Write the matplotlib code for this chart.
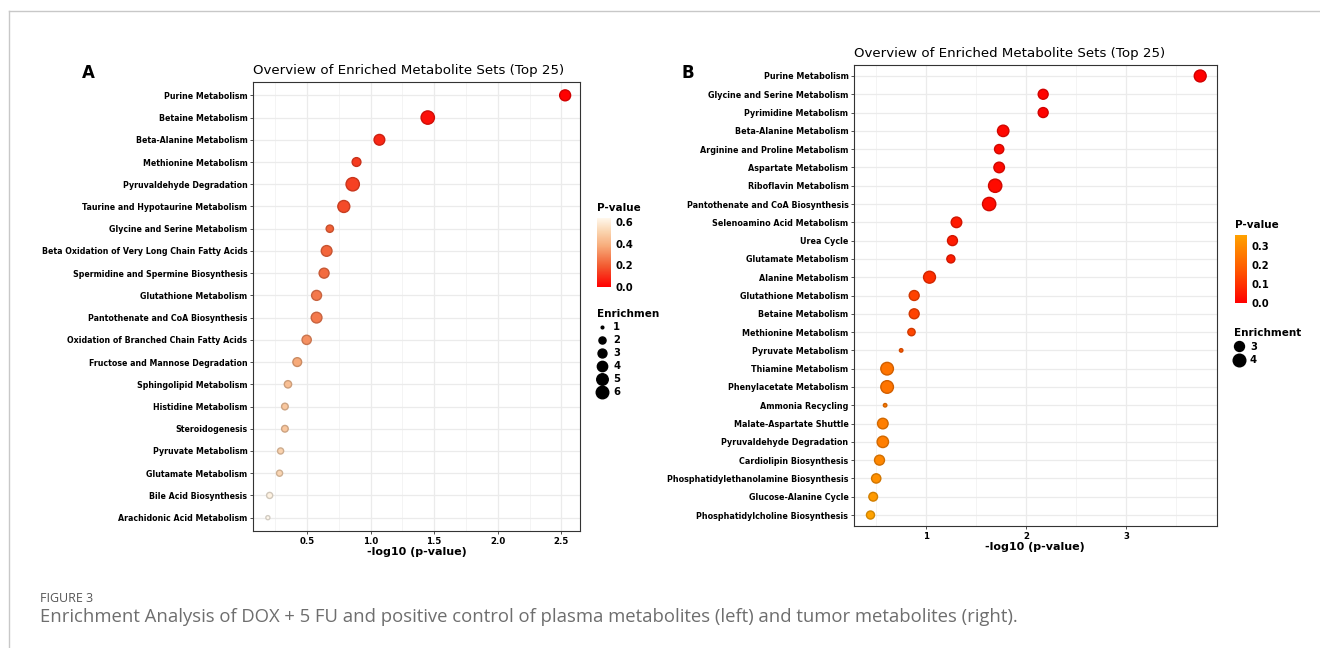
import matplotlib.pyplot as plt
import numpy as np
from matplotlib.cm import ScalarMappable
from matplotlib.colors import LinearSegmentedColormap, Normalize
from matplotlib.lines import Line2D
from matplotlib.ticker import FormatStrFormatter, MultipleLocator

# panel A: plasma metabolites
plasma_sets = [
    "Purine Metabolism", "Betaine Metabolism", "Beta-Alanine Metabolism",
    "Methionine Metabolism", "Pyruvaldehyde Degradation",
    "Taurine and Hypotaurine Metabolism", "Glycine and Serine Metabolism",
    "Beta Oxidation of Very Long Chain Fatty Acids",
    "Spermidine and Spermine Biosynthesis", "Glutathione Metabolism",
    "Pantothenate and CoA Biosynthesis",
    "Oxidation of Branched Chain Fatty Acids",
    "Fructose and Mannose Degradation", "Sphingolipid Metabolism",
    "Histidine Metabolism", "Steroidogenesis", "Pyruvate Metabolism",
    "Glutamate Metabolism", "Bile Acid Biosynthesis",
    "Arachidonic Acid Metabolism",
]
plasma_log_p = [2.53, 1.45, 1.07, 0.89, 0.86, 0.79, 0.68, 0.655, 0.635, 0.576,
                0.576, 0.498, 0.424, 0.351, 0.327, 0.327, 0.293, 0.285, 0.207, 0.193]
plasma_enrichment = [4.5, 6.8, 4.3, 2.9, 6.8, 5.4, 2.1, 4.3, 3.7, 3.7,
                     4.3, 3.2, 2.9, 2.1, 1.8, 1.8, 1.6, 1.6, 1.6, 1.1]
plasma_size_breaks = [1, 2, 3, 4, 5, 6]

# panel B: tumor metabolites
tumor_sets = [
    "Purine Metabolism", "Glycine and Serine Metabolism",
    "Pyrimidine Metabolism", "Beta-Alanine Metabolism",
    "Arginine and Proline Metabolism", "Aspartate Metabolism",
    "Riboflavin Metabolism", "Pantothenate and CoA Biosynthesis",
    "Selenoamino Acid Metabolism", "Urea Cycle", "Glutamate Metabolism",
    "Alanine Metabolism", "Glutathione Metabolism", "Betaine Metabolism",
    "Methionine Metabolism", "Pyruvate Metabolism", "Thiamine Metabolism",
    "Phenylacetate Metabolism", "Ammonia Recycling",
    "Malate-Aspartate Shuttle", "Pyruvaldehyde Degradation",
    "Cardiolipin Biosynthesis", "Phosphatidylethanolamine Biosynthesis",
    "Glucose-Alanine Cycle", "Phosphatidylcholine Biosynthesis",
]
tumor_log_p = [3.737, 2.17, 2.17, 1.771, 1.731, 1.731, 1.691, 1.631, 1.305,
               1.265, 1.249, 1.036, 0.883, 0.883, 0.856, 0.753, 0.613, 0.613,
               0.593, 0.570, 0.570, 0.537, 0.504, 0.474, 0.447]
tumor_enrichment = [3.7, 3.0, 3.0, 3.5, 2.8, 3.2, 4.3, 4.3, 3.2, 3.0, 2.5,
                    3.7, 3.0, 3.0, 2.35, 2.0, 4.0, 4.0, 2.0, 3.2, 3.5, 3.0,
                    2.8, 2.65, 2.5]
tumor_size_breaks = [3, 4]

W, H = 1320, 648
fig = plt.figure(figsize=(W / 100, H / 100), dpi=100)


def px_box(x0, y0, x1, y1):
    return [x0 / W, 1 - y1 / H, (x1 - x0) / W, (y1 - y0) / H]


def marker_diam(enrichment, lim, diam):
    e = np.clip((np.asarray(enrichment, float) - lim[0]) / (lim[1] - lim[0]), 0, 1)
    return diam[0] + np.sqrt(e) * (diam[1] - diam[0])  # pixels


def draw_panel(ax, cax, sets, log_p, enrichment, cmap, size_lim, size_px,
               breaks, major, minor, fmt, ylab_fs, cbar_ticks, leg_anchor,
               leg_title, leg_spacing):
    n = len(sets)
    p = 10 ** (-np.asarray(log_p))
    norm = Normalize(0, p.max())
    face = cmap(norm(p))
    edge = face.copy()
    edge[:, :3] *= 0.82
    d = marker_diam(enrichment, size_lim, size_px)
    ax.scatter(log_p, np.arange(n), s=(d * 0.72) ** 2, c=face,
               edgecolors=edge, linewidths=1.0, zorder=3)

    ax.set_yticks(np.arange(n))
    ax.set_yticklabels(sets, fontsize=ylab_fs, fontweight="bold")
    ax.set_ylim(n - 0.4, -0.6)
    ax.xaxis.set_major_locator(MultipleLocator(major))
    ax.xaxis.set_minor_locator(MultipleLocator(minor))
    ax.xaxis.set_major_formatter(FormatStrFormatter(fmt))
    ax.tick_params(axis="both", length=2.5, width=0.6, color="#333333", pad=1.5)
    ax.tick_params(axis="x", which="minor", length=0)
    ax.tick_params(axis="x", labelsize=6.2)
    for t in ax.get_xticklabels():
        t.set_fontweight("bold")
    ax.grid(True, which="major", color="#ebebeb", linewidth=0.9, zorder=0)
    ax.grid(True, which="minor", axis="x", color="#f2f2f2", linewidth=0.6, zorder=0)
    ax.set_axisbelow(True)
    for s in ax.spines.values():
        s.set_color("#333333")
        s.set_linewidth(0.8)
    ax.set_xlabel("-log10 (p-value)", fontsize=8, fontweight="bold", labelpad=1)
    ax.set_title("Overview of Enriched Metabolite Sets (Top 25)", loc="left",
                 fontsize=9.6, fontweight="medium", pad=6)

    cb = fig.colorbar(ScalarMappable(norm, cmap), cax=cax)
    cb.outline.set_visible(False)
    cb.set_ticks(cbar_ticks)
    cb.ax.yaxis.set_major_formatter(FormatStrFormatter("%.1f"))
    cax.tick_params(length=0, labelsize=7.2, pad=3)
    for t in cax.get_yticklabels():
        t.set_fontweight("bold")
    cax.set_title("P-value", loc="left", fontsize=7.5, fontweight="bold", pad=5)

    handles = [Line2D([], [], marker="o", linestyle="", color="black",
                      markersize=dd * 0.72)
               for dd in marker_diam(breaks, size_lim, size_px)]
    leg = fig.legend(handles, [str(b) for b in breaks], title=leg_title,
                     loc="upper left", bbox_to_anchor=leg_anchor, frameon=False,
                     fontsize=7.2, title_fontsize=7.5, alignment="left",
                     labelspacing=leg_spacing, handlelength=1.0,
                     handletextpad=0.6, borderpad=0, borderaxespad=0)
    leg.get_title().set_fontweight("bold")
    for t in leg.get_texts():
        t.set_fontweight("bold")


cmap_a = LinearSegmentedColormap.from_list(
    "plasma_p", [(0, "#ff0000"), (0.3, "#f25a30"), (0.6, "#f7ad7c"),
                 (0.8, "#fad3ae"), (1, "#fff8ec")])
cmap_b = LinearSegmentedColormap.from_list(
    "tumor_p", [(0, "#ff0000"), (0.5, "#ff5a00"), (1, "#ffa200")])

ax_a = fig.add_axes(px_box(253, 82, 580, 531))
cax_a = fig.add_axes(px_box(597, 218, 611, 287))
draw_panel(ax_a, cax_a, plasma_sets, plasma_log_p, plasma_enrichment, cmap_a,
           (1, 7), (2.7, 13.5), plasma_size_breaks, 0.5, 0.25, "%.1f", 5.7,
           [0, 0.2, 0.4, 0.6], (597 / W, 1 - 309 / H), "Enrichmen", 0.3)

ax_b = fig.add_axes(px_box(854, 65, 1216.7, 526))
cax_b = fig.add_axes(px_box(1235, 235, 1247, 303))
draw_panel(ax_b, cax_b, tumor_sets, tumor_log_p, tumor_enrichment, cmap_b,
           (2, 4.4), (3.5, 13.5), tumor_size_breaks, 1, 0.5, "%d", 5.8,
           [0, 0.1, 0.2, 0.3], (1234 / W, 1 - 328 / H), "Enrichment", 0.35)

fig.text(88 / W, 1 - 73 / H, "A", fontsize=12, fontweight="bold",
         ha="center", va="center")
fig.text(688 / W, 1 - 73 / H, "B", fontsize=12, fontweight="bold",
         ha="center", va="center")

# page frame and caption
fig.add_artist(Line2D([9 / W, 9 / W], [0, 1 - 11 / H], color="#c8c8c8", lw=1))
fig.add_artist(Line2D([9 / W, 1], [1 - 11 / H, 1 - 11 / H], color="#c8c8c8", lw=1))
fig.text(40 / W, 1 - 598 / H, "FIGURE 3", fontsize=9, color="#555555",
         family="Open Sans", va="center")
fig.text(40 / W, 1 - 617 / H,
         "Enrichment Analysis of DOX + 5 FU and positive control of plasma "
         "metabolites (left) and tumor metabolites (right).",
         fontsize=13.3, color="#6e6e6e", family="Open Sans", va="center")

fig.savefig("out.png", dpi=100)
